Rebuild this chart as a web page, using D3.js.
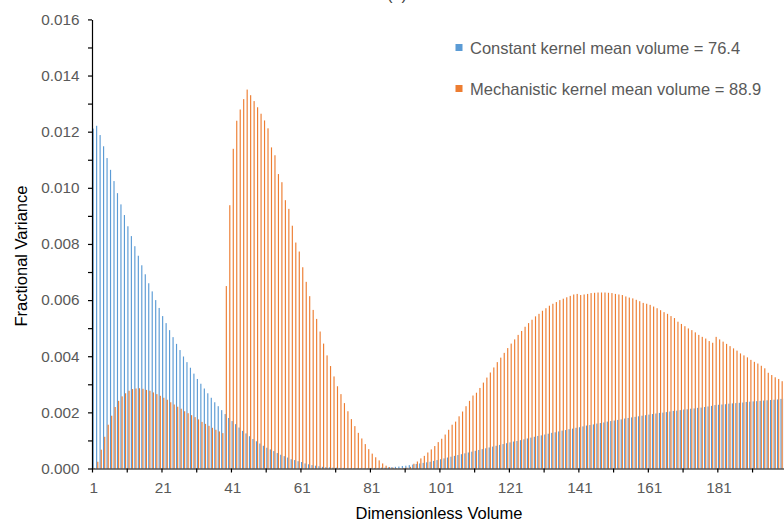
<!DOCTYPE html>
<html>
<head>
<meta charset="utf-8">
<script src="https://cdn.jsdelivr.net/npm/d3@7/dist/d3.min.js"></script>
<style>
  html, body { margin: 0; padding: 0; background: #fff; }
  svg { display: block; }
  text { font-family: "Liberation Sans", Arial, sans-serif; }
</style>
</head>
<body>
<svg id="chart" width="784" height="525"></svg>
<script>
// Dimensionless volume classes 1..200
const volumes = d3.range(1, 201);

const seriesNames = [
  "Constant kernel mean volume = 76.4",
  "Mechanistic kernel mean volume = 88.9"
];

// Fractional variance, constant kernel
const constantKernel = [
  0.01211, 0.01221, 0.01188, 0.01148, 0.01106, 0.01064, 0.01024, 0.00981, 0.00941, 0.00903,
  0.00863, 0.00828, 0.00792, 0.00758, 0.00724, 0.00692, 0.00660, 0.00631, 0.00600, 0.00572,
  0.00543, 0.00518, 0.00493, 0.00468, 0.00444, 0.00422, 0.00399, 0.00379, 0.00359, 0.00338,
  0.00319, 0.00302, 0.00285, 0.00268, 0.00252, 0.00236, 0.00222, 0.00208, 0.00194, 0.00180,
  0.00169, 0.00158, 0.00146, 0.00134, 0.00125, 0.00115, 0.00105, 0.00097, 0.00089, 0.00081,
  0.00074, 0.00068, 0.00062, 0.00055, 0.00049, 0.00044, 0.00039, 0.00033, 0.00030, 0.00026,
  0.00023, 0.00018, 0.00015, 0.00012, 0.00010, 0.00008, 0.00006, 0.00005, 0.00004, 0.00003,
  0.00003, 0.00002, 0.00002, 0.00001, 0.00001, 0.00001, 0.00001, 0.00001, 0.00001, 0.00001,
  0.00002, 0.00002, 0.00002, 0.00003, 0.00003, 0.00004, 0.00005, 0.00006, 0.00007, 0.00009,
  0.00010, 0.00012, 0.00014, 0.00016, 0.00018, 0.00020, 0.00022, 0.00024, 0.00027, 0.00030,
  0.00033, 0.00036, 0.00039, 0.00042, 0.00045, 0.00048, 0.00051, 0.00054, 0.00057, 0.00060,
  0.00063, 0.00066, 0.00069, 0.00072, 0.00075, 0.00078, 0.00081, 0.00084, 0.00087, 0.00090,
  0.00093, 0.00096, 0.00098, 0.00101, 0.00104, 0.00107, 0.00110, 0.00113, 0.00116, 0.00118,
  0.00121, 0.00124, 0.00127, 0.00129, 0.00132, 0.00135, 0.00137, 0.00140, 0.00142, 0.00145,
  0.00147, 0.00150, 0.00153, 0.00155, 0.00157, 0.00160, 0.00162, 0.00164, 0.00167, 0.00169,
  0.00171, 0.00173, 0.00175, 0.00178, 0.00180, 0.00182, 0.00184, 0.00186, 0.00188, 0.00190,
  0.00192, 0.00194, 0.00196, 0.00198, 0.00199, 0.00201, 0.00203, 0.00205, 0.00206, 0.00208,
  0.00210, 0.00211, 0.00213, 0.00214, 0.00216, 0.00217, 0.00219, 0.00221, 0.00223, 0.00226,
  0.00227, 0.00228, 0.00229, 0.00231, 0.00232, 0.00233, 0.00234, 0.00235, 0.00237, 0.00238,
  0.00239, 0.00240, 0.00241, 0.00242, 0.00243, 0.00244, 0.00245, 0.00246, 0.00248, 0.00249
];

// Fractional variance, mechanistic kernel
const mechanisticKernel = [
  0.00002, 0.00024, 0.00067, 0.00113, 0.00156, 0.00188, 0.00219, 0.00241, 0.00257, 0.00268,
  0.00277, 0.00283, 0.00285, 0.00286, 0.00284, 0.00280, 0.00277, 0.00271, 0.00265, 0.00259,
  0.00252, 0.00245, 0.00236, 0.00228, 0.00220, 0.00213, 0.00204, 0.00197, 0.00190, 0.00183,
  0.00175, 0.00166, 0.00159, 0.00152, 0.00145, 0.00138, 0.00132, 0.00126, 0.00650, 0.00938,
  0.01139, 0.01239, 0.01279, 0.01316, 0.01350, 0.01330, 0.01309, 0.01287, 0.01264, 0.01240,
  0.01212, 0.01144, 0.01116, 0.01049, 0.01020, 0.00956, 0.00925, 0.00865, 0.00805, 0.00773,
  0.00717, 0.00665, 0.00614, 0.00565, 0.00533, 0.00488, 0.00445, 0.00403, 0.00365, 0.00328,
  0.00293, 0.00265, 0.00233, 0.00204, 0.00176, 0.00151, 0.00127, 0.00107, 0.00087, 0.00069,
  0.00053, 0.00040, 0.00029, 0.00018, 0.00010, 0.00005, 0.00003, 0.00001, 0.00001, 0.00002,
  0.00003, 0.00006, 0.00017, 0.00025, 0.00036, 0.00045, 0.00057, 0.00068, 0.00080, 0.00094,
  0.00106, 0.00121, 0.00138, 0.00156, 0.00167, 0.00186, 0.00203, 0.00222, 0.00241, 0.00260,
  0.00270, 0.00287, 0.00306, 0.00324, 0.00342, 0.00360, 0.00379, 0.00395, 0.00412, 0.00429,
  0.00445, 0.00460, 0.00476, 0.00490, 0.00505, 0.00518, 0.00530, 0.00542, 0.00551, 0.00562,
  0.00571, 0.00580, 0.00587, 0.00593, 0.00600, 0.00605, 0.00610, 0.00615, 0.00620, 0.00622,
  0.00618, 0.00620, 0.00622, 0.00625, 0.00626, 0.00627, 0.00627, 0.00627, 0.00626, 0.00625,
  0.00622, 0.00620, 0.00618, 0.00613, 0.00609, 0.00606, 0.00601, 0.00596, 0.00590, 0.00587,
  0.00583, 0.00577, 0.00571, 0.00564, 0.00557, 0.00551, 0.00543, 0.00536, 0.00523, 0.00515,
  0.00507, 0.00499, 0.00493, 0.00485, 0.00476, 0.00469, 0.00463, 0.00454, 0.00448, 0.00469,
  0.00460, 0.00452, 0.00444, 0.00436, 0.00428, 0.00420, 0.00410, 0.00403, 0.00396, 0.00387,
  0.00380, 0.00374, 0.00366, 0.00357, 0.00341, 0.00333, 0.00325, 0.00319, 0.00311, 0.00303
];

// Axis labels
const xTickLabels = ["1", "21", "41", "61", "81", "101", "121", "141", "161", "181"];
const yTickLabels = ["0.000", "0.002", "0.004", "0.006", "0.008", "0.010", "0.012", "0.014", "0.016"];
const xTitle = "Dimensionless Volume";
const yTitle = "Fractional Variance";
const colors = ["#5B9BD5", "#ED7D31"];

const svg = d3.select("#chart");
const W = 784, H = 525;
svg.append("rect").attr("width", W).attr("height", H).attr("fill", "#fff");

const plotLeft = 92, step = 3.474;
const plotRight = plotLeft + volumes.length * step;
const plotTop = 19.4, plotBottom = 468.5;

const x = d3.scaleBand().domain(volumes).range([plotLeft, plotRight]).padding(0);
const xEdge = d3.scaleLinear().domain([0, volumes.length]).range([plotLeft, plotRight]);
const inner = d3.scaleBand().domain([0, 1]).range([0, x.bandwidth()])
  .paddingInner(0).paddingOuter(0.51);
const y = d3.scaleLinear().domain([0, 0.016]).range([plotBottom, plotTop]);

// Bars
const series = [constantKernel, mechanisticKernel];
const barLayer = svg.append("g");
series.forEach((vals, si) => {
  barLayer.append("g")
    .attr("fill", colors[si])
    .selectAll("rect")
    .data(volumes.map((v, i) => ({ v, val: vals[i] })))
    .join("rect")
    .attr("x", d => x(d.v) + inner(si))
    .attr("width", inner.bandwidth())
    .attr("y", d => y(d.val))
    .attr("height", d => plotBottom - y(d.val));
});

// Chart title, sitting just above the top edge of the view
svg.append("text")
  .attr("x", 397).attr("y", 0)
  .attr("text-anchor", "middle")
  .attr("font-size", 16.5).attr("fill", "#404040")
  .text("(a)");

// Y axis: labelled majors every 0.002, minor ticks every 0.001
const yTicks = d3.range(17).map(i => i / 1000);
const yAxis = svg.append("g")
  .attr("transform", `translate(${plotLeft},0)`)
  .call(d3.axisLeft(y)
    .tickValues(yTicks)
    .tickSize(4)
    .tickSizeOuter(0)
    .tickPadding(8.5)
    .tickFormat((d, i) => i % 2 === 0 ? yTickLabels[i / 2] : ""));
yAxis.selectAll("text").attr("font-size", 15.3).attr("fill", "#595959")
  .attr("font-family", "Liberation Sans, Arial, sans-serif");
yAxis.selectAll("line, path").attr("stroke", "#000").attr("stroke-width", 1.2);

// X axis: tick marks at every tenth class boundary
const xAxisTicks = svg.append("g")
  .attr("transform", `translate(0,${plotBottom})`)
  .call(d3.axisBottom(xEdge)
    .tickValues(d3.range(0, volumes.length, 10))
    .tickSize(4)
    .tickSizeOuter(0)
    .tickFormat(""));
xAxisTicks.selectAll("line, path").attr("stroke", "#000").attr("stroke-width", 1.2);

// X axis labels centred under classes 1, 21, 41, ...
const xAxisLabels = svg.append("g")
  .attr("transform", `translate(0,${plotBottom})`)
  .call(d3.axisBottom(x)
    .tickValues(xTickLabels.map(Number))
    .tickSize(0)
    .tickPadding(13.3)
    .tickFormat(d => String(d)));
xAxisLabels.select(".domain").remove();
xAxisLabels.selectAll("text").attr("font-size", 15.3).attr("fill", "#595959")
  .attr("font-family", "Liberation Sans, Arial, sans-serif");

// Axis titles
svg.append("text")
  .attr("x", 439).attr("y", 519.3)
  .attr("text-anchor", "middle")
  .attr("font-size", 16.5).attr("fill", "#000")
  .text(xTitle);

svg.append("text")
  .attr("transform", "translate(27,256) rotate(-90)")
  .attr("text-anchor", "middle")
  .attr("font-size", 16.5).attr("fill", "#000")
  .text(yTitle);

// Legend
const legend = svg.append("g");
seriesNames.forEach((name, i) => {
  const base = 54.3 + i * 41;
  legend.append("rect")
    .attr("x", 455.5).attr("y", base - 10.3)
    .attr("width", 7).attr("height", 7)
    .attr("fill", colors[i]);
  legend.append("text")
    .attr("x", 470).attr("y", base)
    .attr("font-size", 16.5).attr("fill", "#595959")
    .text(name);
});
</script>
</body>
</html>
